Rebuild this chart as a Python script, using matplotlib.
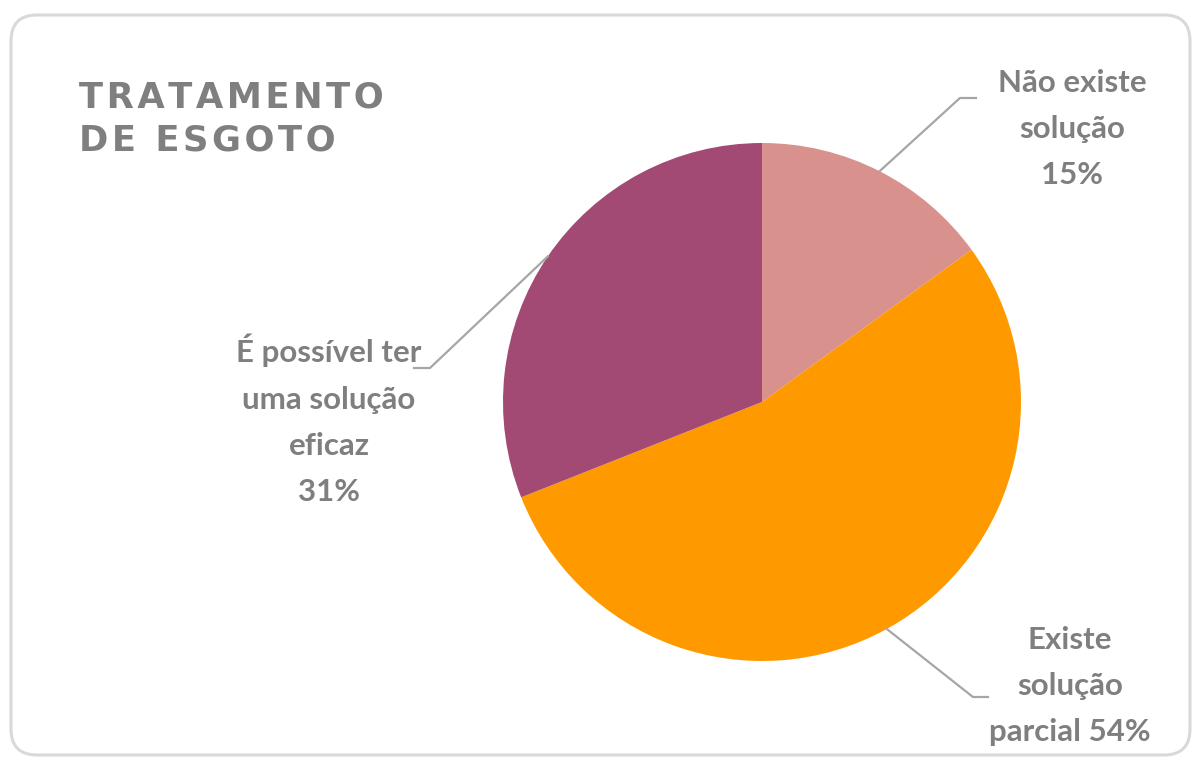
import matplotlib
matplotlib.use("Agg")
import matplotlib.pyplot as plt
from matplotlib.patches import FancyBboxPatch
import numpy as np

# data
labels = ["Não existe\nsolução", "Existe\nsolução\nparcial", "É possível ter\numa solução\neficaz"]
values = [15, 54, 31]
colors = ["#D8918D", "#FF9900", "#A34A74"]
title = "TRATAMENTO\nDE ESGOTO"

W, H = 1192, 760
grey = "#7F7F7F"
line_grey = "#A6A6A6"
lab_font = ["Lato", "DejaVu Sans"]

fig = plt.figure(figsize=(W / 100, H / 100), dpi=100)
ax = fig.add_axes([0, 0, 1, 1])
ax.set_xlim(0, W)
ax.set_ylim(0, H)
ax.axis("off")

# rounded frame
frame = FancyBboxPatch((11, H - 755), 1179, 740,
                       boxstyle="round,pad=0,rounding_size=26",
                       fc="white", ec="#D9D9D9", lw=2.2, zorder=0)
ax.add_patch(frame)

cx, cy, r = 762, H - 402, 259
wedges, _ = ax.pie(values, colors=colors, startangle=90, counterclock=False,
                   center=(cx, cy), radius=r, frame=True,
                   wedgeprops=dict(linewidth=0))
ax.set_xlim(0, W)
ax.set_ylim(0, H)
ax.axis("off")

# leader lines: (elbow, end of horizontal part) and label position
elbows = [((960, 98), (976, 98)), ((973, 697), (988, 697)), ((430, 368), (414, 368))]
text_pos = [(1072, 129), (1070, 686), (329, 420)]

for w, v, lab, (e1, e2), (tx, ty) in zip(wedges, values, labels, elbows, text_pos):
    ang = np.deg2rad((w.theta1 + w.theta2) / 2)
    sx, sy = cx + r * np.cos(ang), cy + r * np.sin(ang)
    ax.plot([sx, e1[0], e2[0]], [sy, H - e1[1], H - e2[1]],
            color=line_grey, lw=1.6, zorder=3)
    if "parcial" in lab:
        txt = f"{lab} {v}%"
    else:
        txt = f"{lab}\n{v}%"
    ax.text(tx, H - ty, txt, ha="center", va="center", fontsize=22.5,
            fontweight="bold", color=grey, family=lab_font, linespacing=1.8)

# spaced title
spaced = "\n".join("\u200a".join(line) for line in title.split("\n"))
ax.text(79, H - 81, spaced, ha="left", va="top", fontsize=25.5,
        fontweight="bold", color=grey, family=["DejaVu Sans"], linespacing=1.32)

fig.savefig("out.png", dpi=100)
